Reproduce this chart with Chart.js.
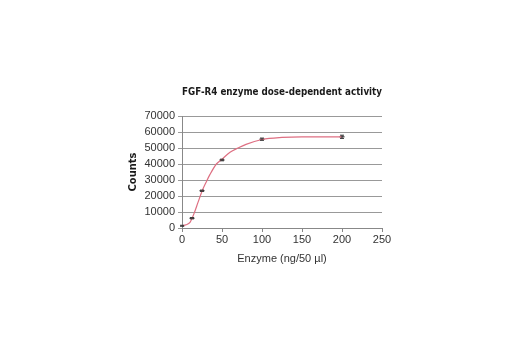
<!DOCTYPE html>
<html>
<head>
<meta charset="utf-8">
<script src="https://cdn.jsdelivr.net/npm/chart.js@4"></script>
<style>
  html, body { margin: 0; padding: 0; background: #fff; }
  #wrap { width: 520px; height: 350px; }
</style>
</head>
<body>
<div id="wrap"><canvas id="canvas" width="520" height="350"></canvas></div>
<script>
// measured points (enzyme ng/50 µl vs counts)
const doseX = [0, 12.5, 25, 50, 100, 200];
const countsY = [1400, 6100, 23300, 42500, 55500, 57000];
const errY = [300, 400, 400, 500, 700, 1000];

// fitted curve
const fitX = [0, 5, 10, 12.5, 15, 20, 25, 30, 35, 43, 50, 60, 70, 80, 100, 125, 150, 200];
const fitY = [1400, 2000, 3500, 6000, 9000, 16000, 23000, 28500, 33500, 40000, 43000, 47300, 50000, 52300, 55300, 56600, 57000, 57000];

const xTicks = [0, 50, 100, 150, 200, 250];
const yTicks = [0, 10000, 20000, 30000, 40000, 50000, 60000, 70000];

const condensed = "'Liberation Sans Narrow', 'DejaVu Sans Condensed', 'Roboto', sans-serif";

const errorBars = {
  id: 'errorBars',
  afterDatasetsDraw(chart) {
    const ctx = chart.ctx;
    const xs = chart.scales.x, ys = chart.scales.y;
    ctx.save();
    ctx.strokeStyle = '#333';
    ctx.lineWidth = 1;
    doseX.forEach((d, i) => {
      const px = xs.getPixelForValue(d);
      const top = ys.getPixelForValue(countsY[i] + errY[i]);
      const bot = ys.getPixelForValue(countsY[i] - errY[i]);
      ctx.beginPath();
      ctx.moveTo(px, top); ctx.lineTo(px, bot);
      ctx.moveTo(px - 2, top); ctx.lineTo(px + 2, top);
      ctx.moveTo(px - 2, bot); ctx.lineTo(px + 2, bot);
      ctx.stroke();
    });
    ctx.restore();
  }
};

const ctx = document.getElementById('canvas').getContext('2d');
const myChart = new Chart(ctx, {
  type: 'scatter',
  data: {
    datasets: [{
      label: 'fit',
      data: fitX.map((x, i) => ({ x: x, y: fitY[i] })),
      showLine: true,
      borderColor: '#de6f82',
      borderWidth: 1.2,
      pointRadius: 0,
      cubicInterpolationMode: 'monotone',
      fill: false
    }, {
      label: 'counts',
      data: doseX.map((x, i) => ({ x: x, y: countsY[i] })),
      showLine: false,
      pointStyle: 'line',
      pointRadius: 2.5,
      borderColor: '#333',
      backgroundColor: '#333',
      borderWidth: 1.2
    }]
  },
  options: {
    responsive: false,
    animation: false,
    layout: { padding: { left: 126, right: 138, top: 0, bottom: 84 } },
    plugins: {
      legend: { display: false },
      tooltip: { enabled: false },
      title: {
        display: true,
        fullSize: false,
        text: 'FGF-R4 enzyme dose-dependent activity',
        color: '#1a1a1a',
        font: { family: condensed, size: 10, weight: 'bold' },
        padding: { top: 86, bottom: 18 }
      }
    },
    scales: {
      x: {
        type: 'linear',
        min: 0, max: 250,
        afterBuildTicks: s => { s.ticks = xTicks.map(v => ({ value: v })); },
        afterFit: s => { s.height = 38; },
        border: { color: '#888', width: 1 },
        grid: { drawOnChartArea: false, color: '#888', tickLength: 4 },
        ticks: { color: '#333', padding: 1, autoSkip: false, maxRotation: 0,
                 callback: v => String(v),
                 font: { family: 'Liberation Sans', size: 11 } },
        title: {
          display: true,
          text: 'Enzyme (ng/50 µl)',
          color: '#333',
          font: { family: 'Liberation Sans', size: 11 },
          padding: { top: 6, bottom: 0 }
        }
      },
      y: {
        min: 0, max: 70000,
        afterBuildTicks: s => { s.ticks = yTicks.map(v => ({ value: v })); },
        afterFit: s => { s.width = 56; },
        border: { color: '#888', width: 1 },
        grid: { color: '#999', tickLength: 4 },
        ticks: { color: '#333', padding: 3, autoSkip: false,
                 callback: v => String(v),
                 font: { family: 'Liberation Sans', size: 11 } },
        title: {
          display: true,
          text: 'Counts',
          color: '#1a1a1a',
          font: { family: condensed, size: 11, weight: 'bold' },
          padding: { top: 1, bottom: 0 }
        }
      }
    }
  },
  plugins: [errorBars]
});
</script>
</body>
</html>
